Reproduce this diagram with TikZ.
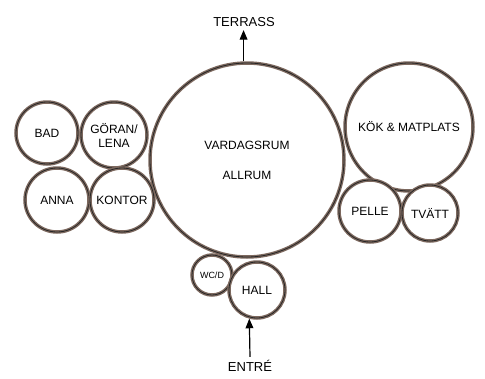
\documentclass[tikz,border=0pt]{standalone}
\usepackage{fontspec}
\setmainfont{Liberation Sans}
\usetikzlibrary{positioning}
\usetikzlibrary{arrows}
\definecolor{rim}{RGB}{125,105,95}

\begin{document}
\begin{tikzpicture}[x=1pt,y=-1pt,>=triangle 45,
    room/.style={circle,draw=rim,line width=3.5pt,fill=white,inner sep=0pt,
        align=center,font=\fontsize{12}{14}\selectfont,
        postaction={draw=black!85,line width=0.8pt}},
    label/.style={font=\fontsize{13}{15}\selectfont}]
    \useasboundingbox (0,0) rectangle (485,378);
    \node[room,minimum size=194] (vardag) at (247,160) {VARDAGSRUM\\[16pt]ALLRUM};
    \node[room,minimum size=128] (kok) at (409,127) {KÖK \& MATPLATS};
    \node[room,minimum size=62] (pelle) at (370,211) {PELLE};
    \node[room,minimum size=56] (tvatt) at (430,213) {TVÄTT};
    \node[room,minimum size=62] (bad) at (47,133) {BAD};
    \node[room,minimum size=66] (goran) at (114,135) {GÖRAN/\\LENA};
    \node[room,minimum size=64] (anna) at (57,200) {ANNA};
    \node[room,minimum size=64] (kontor) at (122,200) {KONTOR};
    \node[room,minimum size=40,font=\fontsize{9}{11}\selectfont] (wc) at (212,275) {WC/D};
    \node[room,minimum size=56] (hall) at (257,290) {HALL};
    \node[label] (terrass) at (244,22) {TERRASS};
    \node[label] (entre) at (250,366) {ENTRÉ};
    \draw [very thick,->] (vardag.92) -- (vardag.92 |- terrass.south);
    \draw [very thick,->] (entre.north) -- (hall.255);
\end{tikzpicture}
\end{document}
